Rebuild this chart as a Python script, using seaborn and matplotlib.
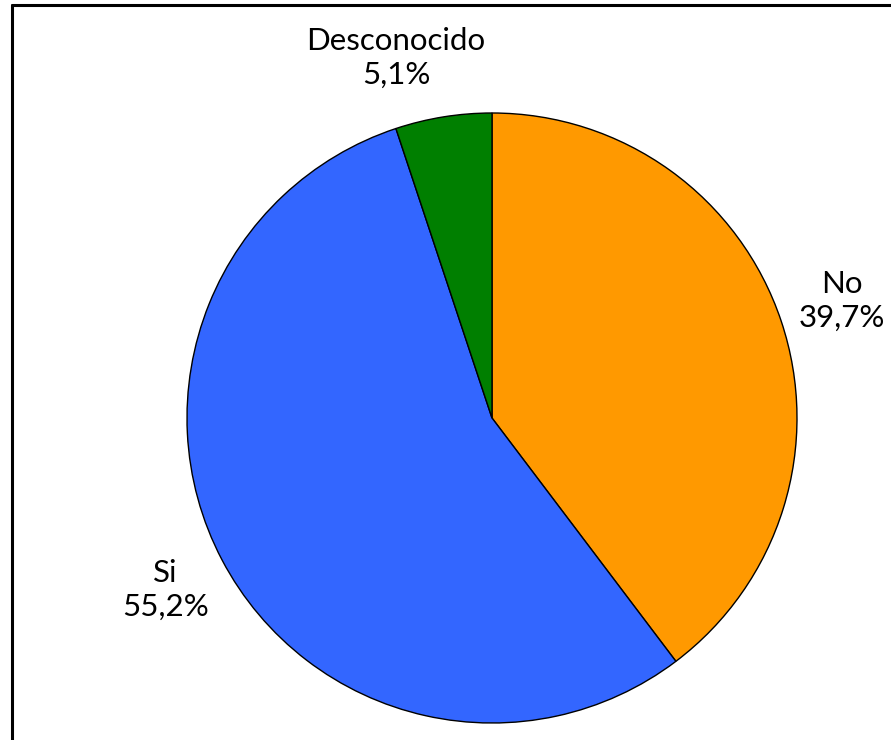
import matplotlib
matplotlib.use("Agg")
import matplotlib.pyplot as plt
import seaborn as sns
from matplotlib.lines import Line2D

categories = ["No", "Si", "Desconocido"]
values = [39.7, 55.2, 5.1]
colors = ["#FF9900", "#3366FF", "#007F00"]

sns.set_theme(style="white")
plt.rcParams['font.family'] = ['Lato', 'DejaVu Sans']

W, H = 891, 740
fig = plt.figure(figsize=(W / 100, H / 100), dpi=100)
ax = fig.add_axes([0, 0, 1, 1])

cx, cy, r = 492, 418, 305
labels = [f"{c}\n{str(v).replace('.', ',')}%" for c, v in zip(categories, values)]
wedges, texts = ax.pie(values, colors=colors, startangle=90, counterclock=False,
                       labels=labels, labeldistance=1.21, radius=1.0,
                       wedgeprops=dict(edgecolor="black", linewidth=1.0),
                       textprops=dict(fontsize=22.5, color="black", linespacing=1.25,
                                      fontweight="normal"))
for t in texts:
    t.set_horizontalalignment("center")
    t.set_verticalalignment("center")
# small slice label is shifted left, as in the reference
texts[2].set_position((-0.315, 1.18))

ax.set_xlim(-cx / r, (W - cx) / r)
ax.set_ylim(-(H - cy) / r, cy / r)
ax.set_aspect("equal")
ax.axis("off")

# frame lines (left and top)
lx = 11.5 / W
ty = (H - 5) / H
fig.add_artist(Line2D([lx, lx], [0, ty], transform=fig.transFigure, color="black", lw=2.2))
fig.add_artist(Line2D([lx, 1], [ty, ty], transform=fig.transFigure, color="black", lw=2.2))

fig.savefig("out.png", dpi=100)
